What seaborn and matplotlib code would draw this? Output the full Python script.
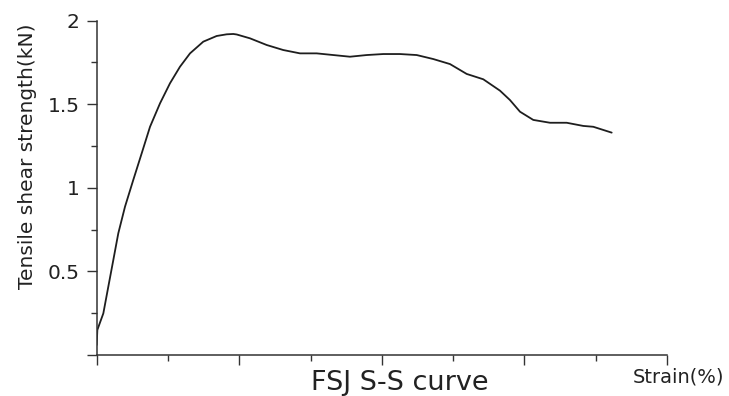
import matplotlib
matplotlib.use("Agg")
import matplotlib.pyplot as plt
from matplotlib.ticker import MultipleLocator, FixedLocator
import seaborn as sns
import pandas as pd

strain = [0.0, 0.009, 0.093, 0.163, 0.233, 0.303, 0.397, 0.513, 0.631, 0.748,
          0.888, 1.028, 1.168, 1.309, 1.495, 1.683, 1.824, 1.916, 1.964, 2.150,
          2.385, 2.617, 2.852, 3.086, 3.319, 3.553, 3.787, 4.020, 4.254, 4.489,
          4.722, 4.956, 5.190, 5.423, 5.657, 5.797, 5.938, 6.124, 6.359, 6.593,
          6.826, 6.966, 7.224]
strength = [0.060, 0.150, 0.249, 0.409, 0.568, 0.728, 0.887, 1.047, 1.206, 1.365,
            1.505, 1.625, 1.724, 1.804, 1.874, 1.908, 1.918, 1.920, 1.917, 1.894,
            1.854, 1.824, 1.804, 1.804, 1.794, 1.784, 1.794, 1.800, 1.800, 1.794,
            1.770, 1.740, 1.681, 1.649, 1.581, 1.525, 1.455, 1.406, 1.389, 1.389,
            1.370, 1.365, 1.330]
ytick_vals = [0, 0.5, 1, 1.5, 2]
ytick_labels = ["", "0.5", "1", "1.5", "2"]

df = pd.DataFrame({"Strain": strain, "Strength": strength})

sns.set_theme(style="ticks")
plt.rcParams["font.family"] = ["DejaVu Sans"]

fig = plt.figure(figsize=(7.29, 3.96), dpi=100)
ax = fig.add_axes([96.7 / 729, 41 / 396, 570.3 / 729, 334.4 / 396])

sns.lineplot(data=df, x="Strain", y="Strength", ax=ax, sort=False,
             color="#1e1e1e", linewidth=1.3)

ax.set_xlim(0, 8)
ax.set_ylim(0, 2)
ax.xaxis.set_major_locator(MultipleLocator(2))
ax.xaxis.set_minor_locator(MultipleLocator(1))
ax.set_xticklabels([])
ax.yaxis.set_major_locator(FixedLocator(ytick_vals))
ax.set_yticks(ytick_vals)
ax.set_yticklabels(ytick_labels)
ax.yaxis.set_minor_locator(MultipleLocator(0.25))

ax.tick_params(axis="both", which="major", direction="out", length=7.5,
               width=1.0, color="#333333", labelsize=14.5, labelcolor="#222222", pad=5)
ax.tick_params(axis="both", which="minor", direction="out", length=4.5,
               width=1.0, color="#333333")

for s in ["top", "right"]:
    ax.spines[s].set_visible(False)
for s in ["left", "bottom"]:
    ax.spines[s].set_color("#333333")
    ax.spines[s].set_linewidth(1.1)

ax.set_ylabel("Tensile shear strength(kN)", fontsize=14.5, color="#222222", va="center")
ax.yaxis.set_label_coords(-0.1215, 0.595)
ax.set_xlabel("FSJ S-S curve", fontsize=19.5, color="#222222", va="center")
ax.xaxis.set_label_coords(0.532, -0.0852)
ax.text(0.940, -0.0658, "Strain(%)", transform=ax.transAxes, fontsize=14,
        color="#222222", ha="left", va="center")

fig.savefig("out.png", dpi=100)
